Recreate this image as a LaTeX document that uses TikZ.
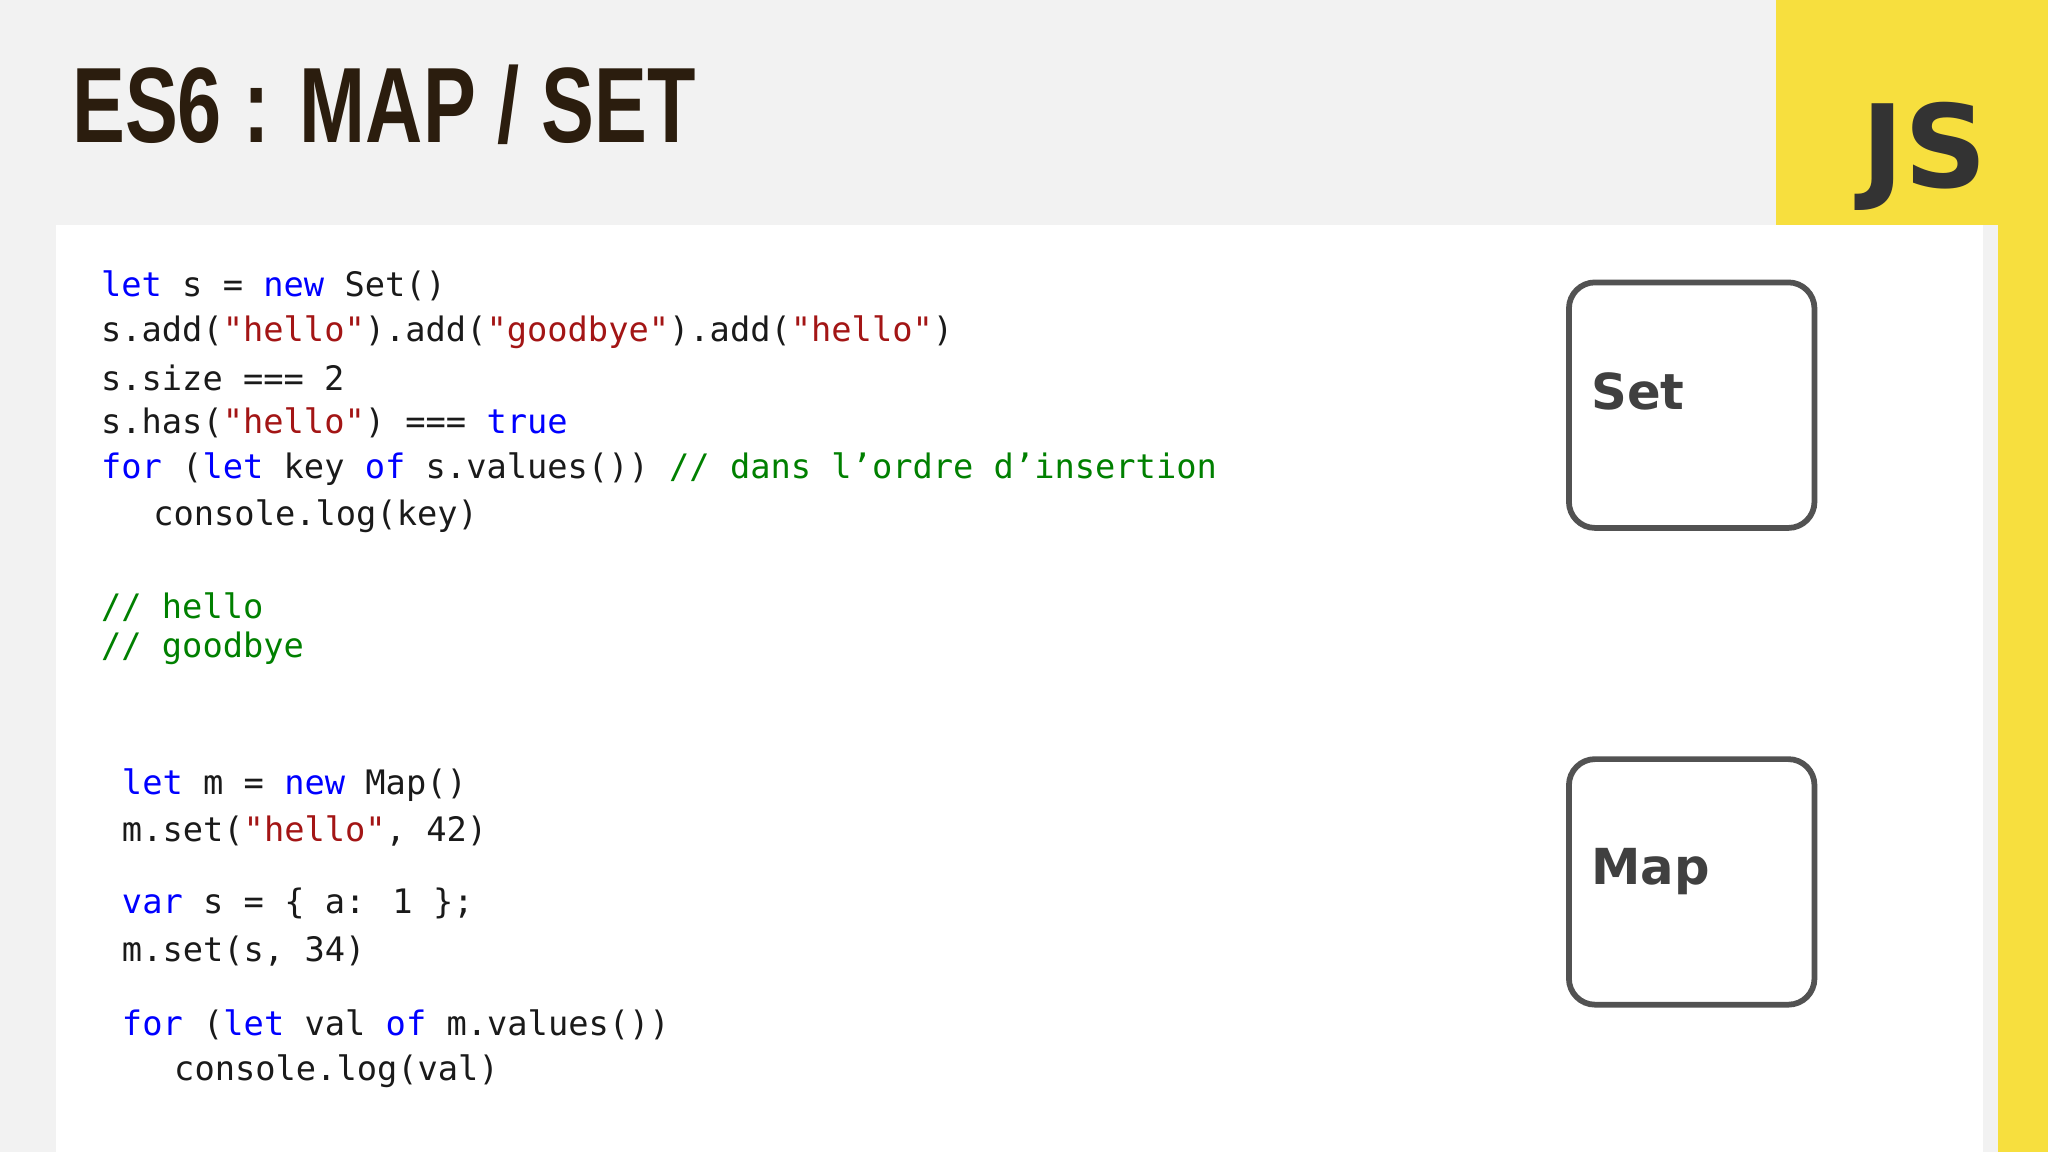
\documentclass[tikz,border=0pt]{standalone}
\usepackage{fontspec}
\setmainfont{DejaVu Sans}
\newfontfamily\codefont{DejaVu Sans Mono}
\newfontfamily\titlefont{Liberation Sans}
\definecolor{kw}{HTML}{0000FF}
\definecolor{st}{HTML}{A31515}
\definecolor{cm}{HTML}{008000}
\definecolor{tx}{HTML}{1A1A1A}
\definecolor{jsy}{HTML}{F7DF3E}
\definecolor{bg}{HTML}{F2F2F2}
\definecolor{ttl}{HTML}{2B1D0E}
\newcommand{\K}[1]{\textcolor{kw}{#1}}
\newcommand{\Q}[1]{\textcolor{st}{#1}}
\newcommand{\C}[1]{\textcolor{cm}{#1}}
\begin{document}
\begin{tikzpicture}[x=0.5pt,y=-0.5pt,
  code/.style={anchor=west,inner sep=0pt,font=\codefont\fontsize{12.9}{15}\selectfont,text=tx},
  kbox/.style={draw=black!68,line width=2.2pt,rounded corners=10pt,minimum width=94pt,minimum height=94pt,anchor=north west},
  klabel/.style={anchor=west,inner sep=0pt,font=\bfseries\fontsize{19}{22}\selectfont,text=black!75}]
\useasboundingbox (0,0) rectangle (1568,882);
\fill[bg] (0,0) rectangle (1568,882);
\fill[jsy] (1360,0) rectangle (1568,172);
\fill[jsy] (1530,172) rectangle (1568,882);
\fill[white] (43,172) rectangle (1518,882);
\node[anchor=west,inner sep=0pt,text=ttl,xscale=0.74,font=\titlefont\bfseries\fontsize{41}{44}\selectfont] (title) at (55,80) {ES6 : MAP / SET};
\node[anchor=east,inner sep=0pt,text=black!80,font=\bfseries\fontsize{44}{48}\selectfont] (js) at (1522,120) {JS};
\node[code] (l1) at (77,219) {\K{let} s = \K{new} Set()};
\node[code] (l2) at (77,254) {s.add(\Q{"hello"}).add(\Q{"goodbye"}).add(\Q{"hello"})};
\node[code] (l3) at (77,289) {s.size === 2};
\node[code] (l4) at (77,324) {s.has(\Q{"hello"}) === \K{true}};
\node[code] (l5) at (77,359) {\K{for} (\K{let} key \K{of} s.values()) \C{// dans l’ordre d’insertion}};
\node[code] (l6) at (117,395) {console.log(key)};
\node[code] (l7) at (77,465) {\C{// hello}};
\node[code] (l8) at (77,496) {\C{// goodbye}};
\node[code] (m1) at (93,601) {\K{let} m = \K{new} Map()};
\node[code] (m2) at (93,636) {m.set(\Q{"hello"}, 42)};
\node[code] (m3) at (93,692) {\K{var} s = \{ a: 1 \};};
\node[code] (m4) at (93,728) {m.set(s, 34)};
\node[code] (m5) at (93,785) {\K{for} (\K{let} val \K{of} m.values())};
\node[code] (m6) at (133,820) {console.log(val)};
\node[kbox] (setbox) at (1199,214) {};
\node[klabel] (setl) at (1218,300) {Set};
\node[kbox] (mapbox) at (1199,579) {};
\node[klabel] (mapl) at (1218,667) {Map};
\end{tikzpicture}
\end{document}
